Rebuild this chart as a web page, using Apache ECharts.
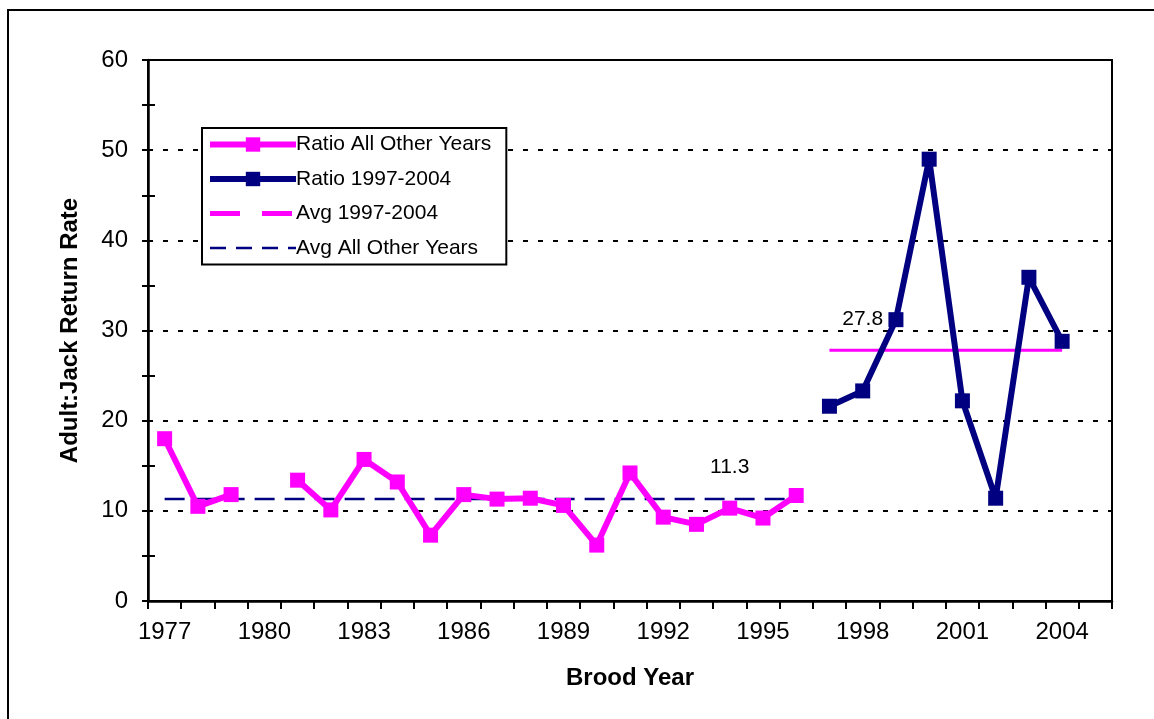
<!DOCTYPE html>
<html>
<head>
<meta charset="utf-8">
<script src="https://cdn.jsdelivr.net/npm/echarts@6/dist/echarts.min.js"></script>
<style>
  html, body { margin: 0; padding: 0; background: #fff; }
  #chart { width: 1154px; height: 719px; }
</style>
</head>
<body>
<div id="chart"></div>
<script>
// Brood years on the category axis
const years = [1977,1978,1979,1980,1981,1982,1983,1984,1985,1986,1987,1988,1989,1990,
               1991,1992,1993,1994,1995,1996,1997,1998,1999,2000,2001,2002,2003,2004,2005];

// Adult:Jack ratio, brood years 1977-1996 (1980 missing)
const ratioOtherYears = [18.0,10.5,11.8,null,13.4,10.1,15.7,13.2,7.3,11.8,11.3,11.4,10.6,6.2,
                         14.2,9.3,8.5,10.3,9.2,11.7];
// Adult:Jack ratio, brood years 1997-2004
const ratio9704 = [21.6,23.3,31.2,49.0,22.2,11.4,35.9,28.8];

// Period averages
const avgOtherYears = 11.3;
const avg9704 = 27.8;
const avgOtherLabelYear = 1994;
const avg9704LabelYear = 1998;

const yTicks = [0,10,20,30,40,50,60];

const FONT = "'Liberation Sans', Arial, sans-serif";
const PINK = '#FF00FF';
const NAVY = '#000080';

const nOther = ratioOtherYears.length;
const n9704 = ratio9704.length;

// Series arrays aligned to the category axis
const otherSeries = years.map((y, i) => i < nOther ? ratioOtherYears[i] : null);
const recentSeries = years.map((y, i) => (i >= nOther && i < nOther + n9704) ? ratio9704[i - nOther] : null);

const valueLabel = {
  show: true,
  position: 'top',
  distance: 21,
  formatter: p => Number(p.value).toFixed(1),
  color: '#000',
  fontFamily: FONT,
  fontSize: 21
};

function avgLine(value, from, to, labelYear) {
  return years.map((y, i) => {
    if (i < from || i >= to) return null;
    if (y === labelYear) {
      return { value: value, label: valueLabel };
    }
    return value;
  });
}
const avgOtherSeries = avgLine(avgOtherYears, 0, nOther, avgOtherLabelYear);
const avg9704Series = avgLine(avg9704, nOther, nOther + n9704, avg9704LabelYear);

const chart = echarts.init(document.getElementById('chart'), null, { renderer: 'canvas' });

const noMarker = { color: 'rgba(0,0,0,0)', borderWidth: 0, borderColor: 'rgba(0,0,0,0)' };

chart.setOption({
  animation: false,
  backgroundColor: '#fff',
  textStyle: { fontFamily: FONT },
  graphic: [{
    type: 'rect',
    shape: { x: 8, y: 10, width: 1170, height: 730 },
    style: { fill: 'none', stroke: '#000', lineWidth: 2 },
    silent: true,
    z: -1
  }],
  grid: {
    left: 148, top: 60, right: 42, bottom: 118,
    show: true, borderColor: '#000', borderWidth: 2, backgroundColor: 'transparent'
  },
  legend: {
    orient: 'vertical',
    left: 202, top: 128,
    padding: [6, 15, 6, 5],
    itemGap: 13.5,
    itemWidth: 86,
    itemHeight: 18,
    borderColor: '#000',
    borderWidth: 2,
    backgroundColor: '#fff',
    textStyle: { fontFamily: FONT, fontSize: 21, color: '#000', padding: [0, 0, 0, -5] },
    data: [
      { name: 'Ratio All Other Years', lineStyle: { width: 6, color: PINK } },
      { name: 'Ratio 1997-2004', lineStyle: { width: 6, color: NAVY } },
      { name: 'Avg 1997-2004', itemStyle: noMarker,
        lineStyle: { type: [30, 22], width: 5, color: PINK } },
      { name: 'Avg All Other Years', itemStyle: noMarker,
        lineStyle: { type: [16, 10], width: 2.5, color: NAVY } }
    ]
  },
  xAxis: {
    type: 'category',
    data: years,
    boundaryGap: true,
    name: 'Brood Year',
    nameLocation: 'middle',
    nameGap: 65,
    nameTextStyle: { fontFamily: FONT, fontSize: 24, fontWeight: 'bold', color: '#000' },
    axisLine: { lineStyle: { color: '#000', width: 2.5 } },
    axisTick: { show: true, interval: 0, alignWithLabel: false, length: 8, lineStyle: { color: '#000', width: 2 } },
    axisLabel: { interval: 2, margin: 19, fontFamily: FONT, fontSize: 24, color: '#000' },
    splitLine: { show: false }
  },
  yAxis: [{
    type: 'value',
    min: 0, max: 60, interval: 10,
    name: 'Adult:Jack Return Rate',
    nameLocation: 'middle',
    nameGap: 66,
    nameTextStyle: { fontFamily: FONT, fontSize: 24, fontWeight: 'bold', color: '#000' },
    axisLine: { show: true, lineStyle: { color: '#000', width: 2.5 } },
    axisTick: { show: true, length: 6, lineStyle: { color: '#000', width: 2 } },
    minorTick: { show: true, splitNumber: 2, length: 6, lineStyle: { color: '#000', width: 2 } },
    axisLabel: { margin: 20, fontFamily: FONT, fontSize: 24, color: '#000',
                 customValues: yTicks },
    splitLine: {
      show: true,
      showMaxLine: false,
      showMinLine: false,
      lineStyle: { color: '#000', width: 2, type: [5, 10] }
    }
  }, {
    // overlay axis: inward halves of the minor ticks
    type: 'value',
    position: 'left',
    min: 0, max: 60, interval: 10,
    axisLine: { show: false },
    axisTick: { show: false, inside: true },
    minorTick: { show: true, splitNumber: 2, length: 7, lineStyle: { color: '#000', width: 2 } },
    axisLabel: { show: false },
    splitLine: { show: false }
  }],
  series: [
    {
      name: 'Ratio All Other Years',
      type: 'line',
      data: otherSeries,
      connectNulls: false,
      symbol: 'rect',
      symbolSize: 15,
      lineStyle: { color: PINK, width: 6 },
      itemStyle: { color: PINK },
      z: 4
    },
    {
      name: 'Ratio 1997-2004',
      type: 'line',
      data: recentSeries,
      connectNulls: false,
      symbol: 'rect',
      symbolSize: 15,
      lineStyle: { color: NAVY, width: 6 },
      itemStyle: { color: NAVY },
      z: 4
    },
    {
      name: 'Avg 1997-2004',
      type: 'line',
      data: avg9704Series,
      showSymbol: true,
      symbol: 'circle',
      symbolSize: 0,
      lineStyle: { color: PINK, width: 3, type: 'solid' },
      itemStyle: { color: PINK },
      z: 3
    },
    {
      name: 'Avg All Other Years',
      type: 'line',
      data: avgOtherSeries,
      showSymbol: true,
      symbol: 'circle',
      symbolSize: 0,
      lineStyle: { color: NAVY, width: 2.5, type: [20, 10] },
      itemStyle: { color: NAVY },
      z: 3
    }
  ]
});
</script>
</body>
</html>
